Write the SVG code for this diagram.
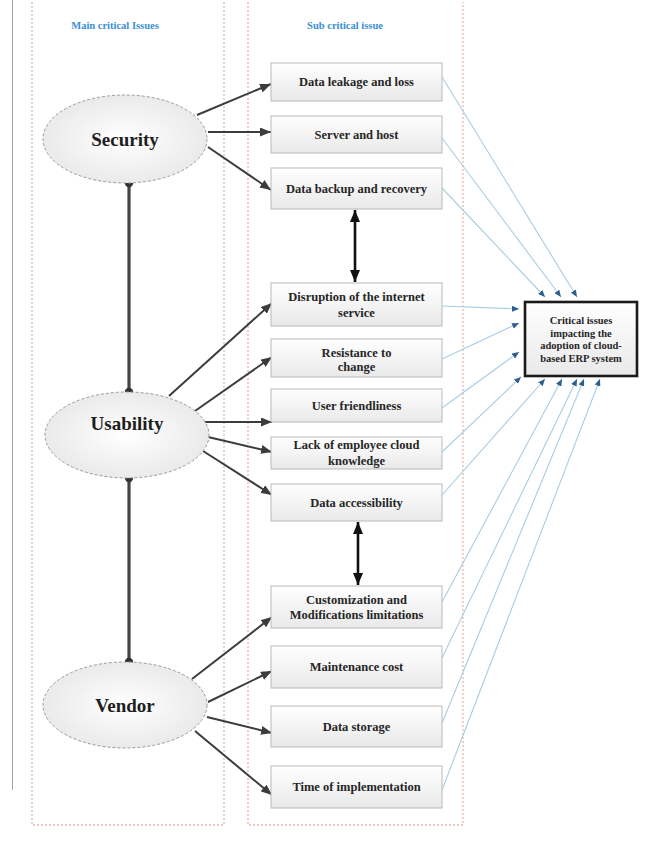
<svg xmlns="http://www.w3.org/2000/svg" width="646" height="845" viewBox="0 0 646 845">
  <style>
    .col { fill: none; stroke: #e2b9a9; stroke-width: 1.3; stroke-dasharray: 2 2; }
    .hdr { font-family: "Liberation Serif", serif; font-weight: bold; font-size: 10.5px; fill: #3b8fd6; text-anchor: middle; }
    .box { fill: url(#boxFill); stroke: #b9b9b9; stroke-width: 1; }
    .lbl { font-family: "Liberation Serif", serif; font-weight: bold; font-size: 12.5px; fill: #262626; text-anchor: middle; }
    .ell { fill: url(#ellFill); stroke: #9a9a9a; stroke-width: 1; stroke-dasharray: 3 2; }
    .main { font-family: "Liberation Serif", serif; font-weight: bold; font-size: 19px; fill: #1e1e1e; text-anchor: middle; }
    .tgt { fill: url(#boxFill); stroke: #1a1a1a; stroke-width: 2.6; }
    .tlbl { font-family: "Liberation Serif", serif; font-weight: bold; font-size: 10.5px; fill: #262626; text-anchor: middle; }
    .dark { stroke: #3c3c3c; stroke-width: 2; fill: none; marker-end: url(#darkHead); }
    .link { stroke: #444; stroke-width: 3.2; fill: none; }
    .dot { fill: #333; }
    .dbl { stroke: #111; stroke-width: 2.6; fill: none; marker-start: url(#blackHead); marker-end: url(#blackHead); }
    .blue { stroke: #a9cde2; stroke-width: 1.1; fill: none; marker-end: url(#blueHead); }
  </style>
  <defs>
    <linearGradient id="boxFill" x1="0" y1="0" x2="0" y2="1">
      <stop offset="0" stop-color="#ffffff"/>
      <stop offset="1" stop-color="#e9e9e9"/>
    </linearGradient>
    <radialGradient id="ellFill" cx="0.5" cy="0.5" r="0.6">
      <stop offset="0" stop-color="#ffffff"/>
      <stop offset="1" stop-color="#e6e6e6"/>
    </radialGradient>
    <marker id="darkHead" markerUnits="userSpaceOnUse" markerWidth="11" markerHeight="9" refX="11" refY="4.5" orient="auto">
      <path d="M0,0 L11,4.5 L0,9 z" fill="#3c3c3c"/>
    </marker>
    <marker id="blackHead" markerUnits="userSpaceOnUse" markerWidth="12" markerHeight="10" refX="12" refY="5" orient="auto-start-reverse">
      <path d="M0,0 L12,5 L0,10 z" fill="#111"/>
    </marker>
    <marker id="blueHead" markerUnits="userSpaceOnUse" markerWidth="7" markerHeight="6" refX="7" refY="3" orient="auto">
      <path d="M0,0 L7,3 L0,6 z" fill="#2c5f8f"/>
    </marker>
  </defs>

  <rect width="646" height="845" fill="#ffffff"/>

  <!-- page margin rule -->
  <line x1="12.5" y1="0" x2="12.5" y2="790" stroke="#a6a6a6" stroke-width="1"/>

  <!-- column frames -->
  <g id="columns">
    <path class="col" d="M32,2 V825 H224 V2"/>
    <path class="col" d="M248,2 V825 H463 V2"/>
    <text class="hdr" x="115" y="29">Main critical Issues</text>
    <text class="hdr" x="345" y="29">Sub critical issue</text>
  </g>

  <!-- connectors -->
  <g id="connectors">
    <!-- links between main issues -->
    <line class="link" x1="129" y1="183" x2="129" y2="392"/>
    <circle class="dot" cx="129" cy="183" r="4.2"/>
    <circle class="dot" cx="129" cy="392" r="4.2"/>
    <line class="link" x1="129" y1="478" x2="129" y2="662"/>
    <circle class="dot" cx="129" cy="478" r="4.2"/>
    <circle class="dot" cx="129" cy="662" r="4.2"/>

    <!-- Security -->
    <line class="dark" x1="197" y1="115" x2="271" y2="84"/>
    <line class="dark" x1="208" y1="132" x2="271" y2="132"/>
    <line class="dark" x1="208" y1="147" x2="271" y2="190"/>
    <!-- Usability -->
    <line class="dark" x1="169" y1="396" x2="272" y2="303"/>
    <line class="dark" x1="195" y1="411" x2="272" y2="357"/>
    <line class="dark" x1="204" y1="422" x2="272" y2="422"/>
    <line class="dark" x1="208" y1="437" x2="272" y2="452"/>
    <line class="dark" x1="203" y1="451" x2="272" y2="495"/>
    <!-- Vendor -->
    <line class="dark" x1="192" y1="679" x2="272" y2="617"/>
    <line class="dark" x1="208" y1="702" x2="272" y2="671"/>
    <line class="dark" x1="207" y1="717" x2="272" y2="733"/>
    <line class="dark" x1="195" y1="731" x2="272" y2="795"/>

    <!-- two-way links between sub issues -->
    <line class="dbl" x1="355" y1="210" x2="355" y2="282"/>
    <line class="dbl" x1="358" y1="522" x2="358" y2="585"/>

    <!-- sub issues to the central box -->
    <line class="blue" x1="442" y1="77" x2="577" y2="297"/>
    <line class="blue" x1="442" y1="138" x2="561" y2="297"/>
    <line class="blue" x1="442" y1="188" x2="545" y2="297"/>
    <line class="blue" x1="442" y1="306" x2="519" y2="309"/>
    <line class="blue" x1="442" y1="359" x2="519" y2="323"/>
    <line class="blue" x1="442" y1="408" x2="519" y2="352"/>
    <line class="blue" x1="442" y1="452" x2="521" y2="377"/>
    <line class="blue" x1="442" y1="495" x2="545" y2="379"/>
    <line class="blue" x1="442" y1="602" x2="562" y2="379"/>
    <line class="blue" x1="442" y1="658" x2="577" y2="379"/>
    <line class="blue" x1="442" y1="723" x2="584" y2="379"/>
    <line class="blue" x1="442" y1="790" x2="600" y2="379"/>
  </g>

  <!-- main critical issues -->
  <g id="security">
    <ellipse class="ell" cx="125" cy="139" rx="82" ry="44"/>
    <text class="main" x="125" y="146">Security</text>
  </g>
  <g id="usability">
    <ellipse class="ell" cx="127" cy="435" rx="82" ry="43"/>
    <text class="main" x="127" y="430">Usability</text>
  </g>
  <g id="vendor">
    <ellipse class="ell" cx="125" cy="705" rx="82" ry="43"/>
    <text class="main" x="125" y="712">Vendor</text>
  </g>

  <!-- sub critical issues -->
  <g id="data-leakage">
    <rect class="box" x="271" y="63" width="171" height="38"/>
    <text class="lbl" x="356.5" y="86">Data leakage and loss</text>
  </g>
  <g id="server-host">
    <rect class="box" x="271" y="116" width="171" height="37"/>
    <text class="lbl" x="356.5" y="139">Server and host</text>
  </g>
  <g id="data-backup">
    <rect class="box" x="271" y="168" width="171" height="41"/>
    <text class="lbl" x="356.5" y="193">Data backup and recovery</text>
  </g>
  <g id="disruption">
    <rect class="box" x="271" y="283" width="171" height="43"/>
    <text class="lbl" x="356.5" y="301">Disruption of the internet</text>
    <text class="lbl" x="356.5" y="317">service</text>
  </g>
  <g id="resistance">
    <rect class="box" x="271" y="339" width="171" height="38"/>
    <text class="lbl" x="356.5" y="357">Resistance to</text>
    <text class="lbl" x="356.5" y="371">change</text>
  </g>
  <g id="user-friendliness">
    <rect class="box" x="271" y="389" width="171" height="33"/>
    <text class="lbl" x="356.5" y="409.5">User friendliness</text>
  </g>
  <g id="cloud-knowledge">
    <rect class="box" x="271" y="437" width="171" height="32"/>
    <text class="lbl" x="356.5" y="449">Lack of employee cloud</text>
    <text class="lbl" x="356.5" y="465">knowledge</text>
  </g>
  <g id="data-accessibility">
    <rect class="box" x="271" y="484" width="171" height="37"/>
    <text class="lbl" x="356.5" y="507">Data accessibility</text>
  </g>
  <g id="customization">
    <rect class="box" x="271" y="586" width="171" height="42"/>
    <text class="lbl" x="356.5" y="604">Customization and</text>
    <text class="lbl" x="356.5" y="619">Modifications limitations</text>
  </g>
  <g id="maintenance">
    <rect class="box" x="271" y="646" width="171" height="42"/>
    <text class="lbl" x="356.5" y="671">Maintenance cost</text>
  </g>
  <g id="data-storage">
    <rect class="box" x="271" y="706" width="171" height="41"/>
    <text class="lbl" x="356.5" y="731">Data storage</text>
  </g>
  <g id="implementation-time">
    <rect class="box" x="271" y="766" width="171" height="42"/>
    <text class="lbl" x="356.5" y="791">Time of implementation</text>
  </g>

  <!-- central outcome -->
  <g id="critical-issues">
    <rect class="tgt" x="525" y="302" width="112" height="74"/>
    <text class="tlbl" x="581" y="324">Critical issues</text>
    <text class="tlbl" x="581" y="336.5">impacting the</text>
    <text class="tlbl" x="581" y="349">adoption of cloud-</text>
    <text class="tlbl" x="581" y="361.5">based ERP system</text>
  </g>
</svg>
